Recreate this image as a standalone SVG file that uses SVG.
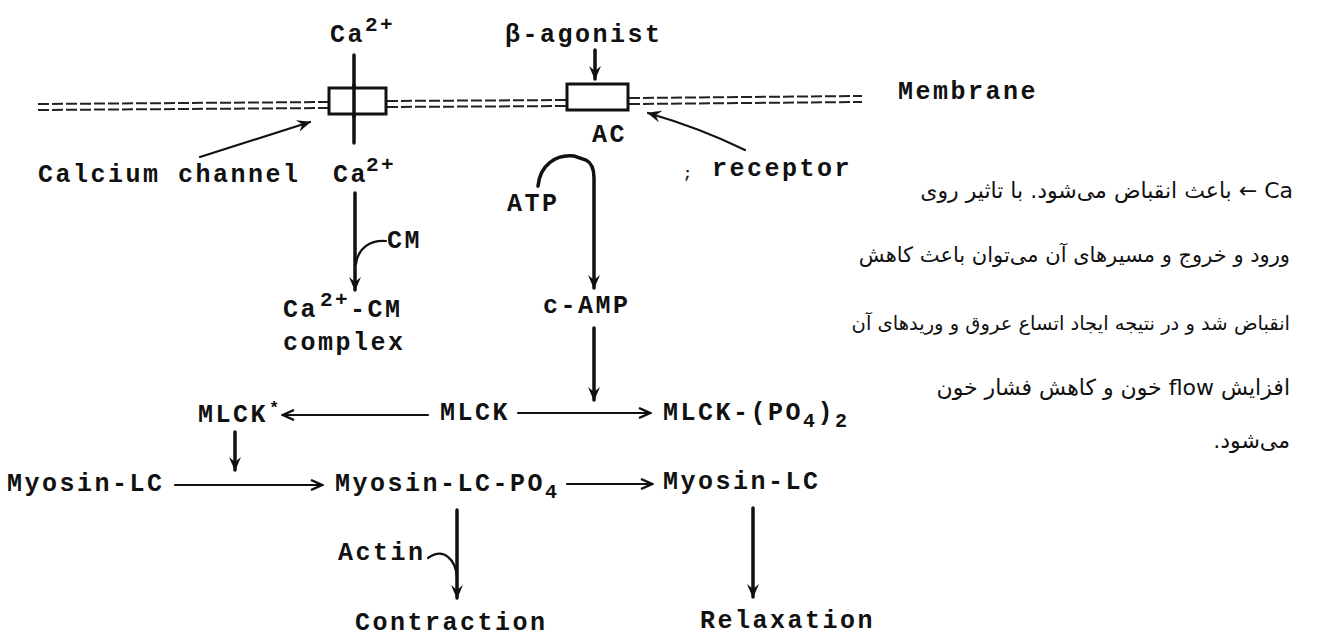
<svg xmlns="http://www.w3.org/2000/svg" width="1323" height="636" viewBox="0 0 1323 636">
<style>
.t{font-family:"Liberation Mono","Courier New",monospace;font-size:25px;font-weight:bold;letter-spacing:2.5px;fill:#111}
.sup{font-size:21px}
.sub{font-size:20px}
.fa{font-family:"DejaVu Sans",sans-serif;font-size:22px;fill:#111;direction:rtl;unicode-bidi:embed}
.ln{fill:none;stroke:#111;stroke-width:3.5;stroke-linecap:round}
.thin{fill:none;stroke:#111;stroke-width:2.2;stroke-linecap:round}
.mem{fill:none;stroke:#222;stroke-width:2;stroke-dasharray:11 3}
.box{fill:#fff;stroke:#111;stroke-width:3}
</style>
<defs>
<marker id="ah" viewBox="0 0 14 14" refX="13" refY="7" markerWidth="14" markerHeight="14" markerUnits="userSpaceOnUse" orient="auto">
<path d="M0,1 L14,7 L0,13 L5,7 z" fill="#111"/>
</marker>
<marker id="chev" viewBox="0 0 14 12" refX="12" refY="6" markerWidth="14" markerHeight="12" markerUnits="userSpaceOnUse" orient="auto">
<path d="M1,1 L12,6 L1,11" fill="none" stroke="#111" stroke-width="2.4"/>
</marker>
</defs>

<g id="membrane">
<line class="mem" x1="38" y1="104" x2="329" y2="102"/>
<line class="mem" x1="38" y1="110" x2="329" y2="108"/>
<line class="mem" x1="387" y1="101" x2="567" y2="100"/>
<line class="mem" x1="387" y1="107" x2="567" y2="106"/>
<line class="mem" x1="629" y1="98" x2="862" y2="96"/>
<line class="mem" x1="629" y1="104" x2="862" y2="102"/>
<text class="t" x="898" y="99">Membrane</text>
</g>

<g id="connectors">
<line class="ln" x1="354" y1="55" x2="354" y2="143"/>
<line class="ln" x1="355" y1="193" x2="355" y2="290" marker-end="url(#ah)"/>
<path class="thin" d="M386,241 C370,240 358,248 356,264"/>
<line class="ln" x1="595" y1="50" x2="595" y2="79" marker-end="url(#ah)"/>
<path class="thin" d="M200,157 L310,122" marker-end="url(#ah)"/>
<path class="thin" d="M745,150 Q700,128 648,113" marker-end="url(#ah)"/>
<path class="ln" d="M538,186 C540,165 556,154 574,156 L586,160 Q594,164 594,178 L594,288" marker-end="url(#ah)"/>
<line class="ln" x1="594" y1="328" x2="594" y2="400" marker-end="url(#ah)"/>
<line class="thin" x1="428" y1="415" x2="283" y2="415" marker-end="url(#chev)"/>
<line class="thin" x1="518" y1="413" x2="650" y2="413" marker-end="url(#chev)"/>
<line class="ln" x1="235" y1="432" x2="235" y2="470" marker-end="url(#ah)"/>
<line class="thin" x1="175" y1="485" x2="322" y2="485" marker-end="url(#chev)"/>
<line class="thin" x1="567" y1="484" x2="652" y2="484" marker-end="url(#chev)"/>
<line class="ln" x1="457" y1="510" x2="457" y2="598" marker-end="url(#ah)"/>
<path class="thin" d="M428,558 Q440,550 448,557 Q456,563 457,578"/>
<line class="ln" x1="753" y1="508" x2="753" y2="597" marker-end="url(#ah)"/>
</g>

<g id="calcium-channel-box"><rect class="box" x="329" y="88" width="57" height="26"/><line class="ln" x1="354" y1="85" x2="354" y2="117"/></g>
<g id="ac-box"><rect class="box" x="567" y="84" width="61" height="26"/></g>

<g id="ca-out"><text class="t" x="330" y="42">Ca<tspan class="sup" x="365" y="31">2+</tspan></text></g>
<g id="beta-agonist"><text class="t" x="505" y="42">β-agonist</text></g>
<g id="ac-label"><text class="t" x="592" y="142">AC</text></g>
<g id="calcium-channel"><text class="t" x="38" y="182">Calcium channel</text></g>
<g id="ca-in"><text class="t" x="333" y="182">Ca<tspan class="sup" x="366" y="171">2+</tspan></text></g>
<g id="receptor"><text class="t" x="683" y="178" style="font-size:15px">;</text><text class="t" x="712" y="176">receptor</text></g>
<g id="cm"><text class="t" x="387" y="248">CM</text></g>
<g id="atp"><text class="t" x="507" y="211">ATP</text></g>
<g id="ca-cm-complex"><text class="t" x="283" y="317">Ca<tspan class="sup" x="320" y="306">2+</tspan><tspan x="350" y="317">-CM</tspan></text><text class="t" x="283" y="350">complex</text></g>
<g id="camp"><text class="t" x="543" y="313">c-AMP</text></g>
<g id="mlck-star"><text class="t" x="198" y="422">MLCK</text><text class="t" x="269" y="413" style="font-size:17px">*</text></g>
<g id="mlck"><text class="t" x="440" y="420">MLCK</text></g>
<g id="mlck-po4"><text class="t" x="663" y="420">MLCK-(PO<tspan class="sub" dy="7">4</tspan><tspan dy="-7">)</tspan><tspan class="sub" dy="7">2</tspan></text></g>
<g id="myosin-lc-1"><text class="t" x="7" y="491">Myosin-LC</text></g>
<g id="myosin-lc-po4"><text class="t" x="335" y="491">Myosin-LC-PO<tspan class="sub" dy="7">4</tspan></text></g>
<g id="myosin-lc-2"><text class="t" x="663" y="489">Myosin-LC</text></g>
<g id="actin"><text class="t" x="338" y="560">Actin</text></g>
<g id="contraction"><text class="t" x="355" y="630">Contraction</text></g>
<g id="relaxation"><text class="t" x="700" y="628">Relaxation</text></g>

<g id="note">
<text class="fa" x="1293" y="198" direction="rtl" text-anchor="start" style="font-size:22px">Ca ← باعث انقباض می‌شود. با تاثیر روی</text>
<text class="fa" x="1290" y="262" direction="rtl" text-anchor="start" style="font-size:21px">ورود و خروج و مسیرهای آن می‌توان باعث کاهش</text>
<text class="fa" x="1290" y="330" direction="rtl" text-anchor="start" style="font-size:19.5px">انقباض شد و در نتیجه ایجاد اتساع عروق و وریدهای آن</text>
<text class="fa" x="1290" y="395" direction="rtl" text-anchor="start" style="font-size:22px">افزایش flow خون و کاهش فشار خون</text>
<text class="fa" x="1290" y="448" direction="rtl" text-anchor="start" style="font-size:22px">می‌شود.</text>
</g>
</svg>
